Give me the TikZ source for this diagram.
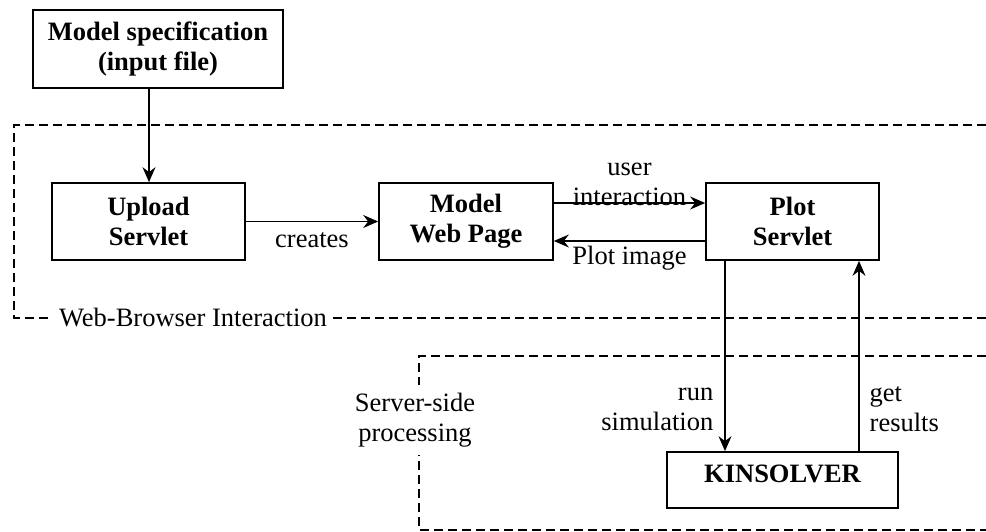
\documentclass[tikz,border=0pt]{standalone}
\usepackage{fontspec}
\setmainfont{Liberation Serif}
\usetikzlibrary{arrows.meta}
\begin{document}
\begin{tikzpicture}[x=1pt,y=-1pt,
  font=\fontsize{26.5}{30}\selectfont,
  box/.style={draw, line width=1.7pt, font=\fontsize{26.5}{30}\selectfont\bfseries, align=center, inner sep=0pt, minimum height=77pt},
  conn/.style={line width=1.4pt, -{Stealth[length=15pt,width=13pt,inset=5pt]}},
  region/.style={line width=1.3pt, dash pattern=on 9pt off 5pt},
  lbl/.style={inner sep=0pt, align=center}]
\useasboundingbox (0,0) rectangle (986,531);
% regions
\draw[region] (986,125) -- (14,125) -- (14,318) -- (986,318);
\node[lbl, fill=white, inner xsep=6pt, inner ysep=3pt] (webl) at (193,318) {Web-Browser Interaction};
\draw[region] (986,356) -- (419,356) -- (419,530) -- (986,530);
\node[lbl, fill=white, inner ysep=8pt, inner xsep=4pt] (srvl) at (415,420) {Server-side\\processing};
% boxes
\node[box, minimum width=250pt, minimum height=78pt] (spec) at (158,49) {Model specification\\(input file)};
\node[box, minimum width=193pt] (upl) at (148.5,221.5) {Upload\\Servlet};
\node[box, minimum width=174pt] (web) at (466,221.5) {Model\\Web Page};
\node[box, minimum width=173pt] (plot) at (792.5,221.5) {Plot\\Servlet};
\node[box, minimum width=231pt, minimum height=0pt, text height=30pt, text depth=26pt] (kin) at (782.5,480) {KINSOLVER};
% connector anchor coordinates
\coordinate (x1) at (149,0);
\coordinate (ya) at (0,203);
\coordinate (yb) at (0,241);
\coordinate (xr) at (725,0);
\coordinate (xg) at (859,0);
% connectors
\draw[conn] (spec.south -| x1) -- (upl.north -| x1);
\draw[conn] (upl.east) -- node[lbl, below=10pt] {creates} (web.west);
\draw[conn] (web.east |- ya) -- node[lbl, above=-3pt] {user\\interaction} (plot.west |- ya);
\draw[conn] (plot.west |- yb) -- node[lbl, below=4pt] {Plot image} (web.east |- yb);
\draw[conn] (plot.south -| xr) -- node[lbl, left=11pt, pos=0.78, align=right] {run\\simulation} (kin.north -| xr);
\draw[conn] (kin.north -| xg) -- node[lbl, right=10pt, pos=0.22, align=left] {get\\results} (plot.south -| xg);
\end{tikzpicture}
\end{document}
